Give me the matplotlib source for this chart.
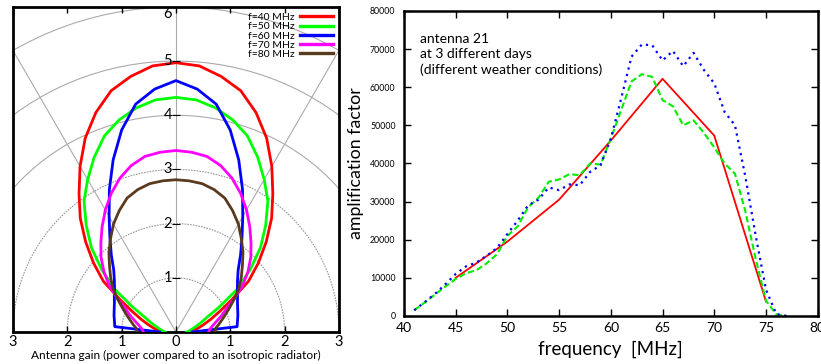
import numpy as np
import matplotlib
matplotlib.use("Agg")
import matplotlib.pyplot as plt
from matplotlib.patches import Circle

plt.rcParams["font.family"] = ["Lato", "DejaVu Sans"]

# --- left: antenna gain patterns (radius vs elevation, symmetric about zenith)
elev = [0, 5, 10, 15, 20, 25, 30, 35, 40, 45, 50, 55, 60, 65, 70, 75, 80, 85, 90]
gain_40 = [0.25, 0.33, 0.42, 0.53, 0.68, 0.88, 1.18, 1.63, 1.98, 2.35, 2.74, 3.11,
           3.53, 3.95, 4.31, 4.61, 4.79, 4.93, 4.97]
gain_50 = [0.20, 0.25, 0.30, 0.37, 0.48, 0.62, 0.92, 1.38, 1.78, 2.20, 2.57, 2.95,
           3.25, 3.56, 3.85, 4.05, 4.20, 4.30, 4.33]
gain_60 = [0.30, 1.13, 1.15, 1.18, 1.21, 1.25, 1.31, 1.38, 1.48, 1.62, 1.85, 2.12,
           2.46, 2.90, 3.38, 3.86, 4.27, 4.50, 4.64]
gain_70 = [0.60, 0.63, 0.69, 0.78, 0.90, 1.03, 1.25, 1.50, 1.73, 1.95, 2.15, 2.37,
           2.60, 2.82, 3.02, 3.18, 3.29, 3.33, 3.35]
gain_80 = [0.72, 0.73, 0.80, 0.88, 0.98, 1.10, 1.25, 1.42, 1.57, 1.73, 1.92, 2.10,
           2.30, 2.47, 2.63, 2.72, 2.78, 2.80, 2.81]
pattern_labels = ["f=40 MHz", "f=50 MHz", "f=60 MHz", "f=70 MHz", "f=80 MHz"]
pattern_colors = ["#ff0000", "#00ff00", "#0000ff", "#ff00ff", "#5a3a1e"]

# --- right: amplification factor vs frequency
freq_model = [45, 50, 55, 60, 65, 70, 75]
amp_model = [10000, 19500, 30500, 46000, 62200, 47300, 3800]

freq_meas = list(range(41, 78))
amp_day2 = [1500, 3500, 5600, 7700, 9700, 11200, 12000, 13800, 16200, 21000,
            23500, 28500, 31000, 35200, 35800, 37200, 36900, 40000, 39700, 46500,
            54000, 61500, 63400, 62700, 56600, 55000, 50000, 51300, 48000, 44200,
            40000, 37300, 27500, 15000, 4000, 400, 0]
amp_day3 = [1500, 3600, 5800, 8300, 11000, 13000, 14000, 15800, 17800, 21500,
            25000, 29000, 30500, 33700, 33000, 34500, 34300, 37800, 39500, 46500,
            57000, 68000, 71200, 71000, 67000, 69500, 65500, 69000, 64500, 61000,
            53500, 50000, 36600, 21100, 6900, 500, 0]

fig = plt.figure(figsize=(8.21, 3.64), dpi=100)

# ---------------- left panel ----------------
ax = fig.add_axes([0.0158, 0.088, 0.397, 0.893])
ax.set_xlim(-3, 3)
ax.set_ylim(0, 6)

for r in [1, 2, 3]:
    ax.add_patch(Circle((0, 0), r, fill=False, ec="#999999", lw=0.8,
                        ls=(0, (1.5, 1)), zorder=1))
for r in [4, 5, 6]:
    ax.add_patch(Circle((0, 0), r, fill=False, ec="#aaaaaa", lw=0.8, zorder=1))
for a in [60, 90, 120]:
    t = np.radians(a)
    ax.plot([0, 6 * np.cos(t)], [0, 6 * np.sin(t)], color="#aaaaaa", lw=0.8, zorder=1)

e = np.radians(elev)
theta = np.concatenate([e, np.pi - e[::-1][1:]])
for g, lab, col in zip([gain_40, gain_50, gain_60, gain_70, gain_80],
                       pattern_labels, pattern_colors):
    rr = np.concatenate([g, g[::-1][1:]])
    ax.plot(rr * np.cos(theta), rr * np.sin(theta), color=col, lw=2.0,
            label=lab, zorder=3)

rticks = [1, 2, 3, 4, 5, 6]
for r in rticks:
    ax.text(-0.07, r, str(r), ha="right", va="top" if r == 6 else "center",
            fontsize=10.5, zorder=4)
ax.hlines(rticks[:-1], -0.07, 0.07, color="k", lw=0.8, zorder=4)

xt = [-3, -2, -1, 0, 1, 2, 3]
ax.set_xticks(xt)
ax.set_xticklabels([str(abs(v)) for v in xt], fontsize=10.5)
ax.set_yticks([])
ax.tick_params(axis="x", direction="in", top=True, length=4, width=1, pad=2)
for s in ax.spines.values():
    s.set_linewidth(2)
ax.set_xlabel("Antenna gain (power compared to an isotropic radiator)",
              fontsize=8.6, labelpad=1)

leg = ax.legend(loc="upper right", markerfirst=False, frameon=False, fontsize=7.5,
                handlelength=3.2, handletextpad=0.5, labelspacing=0.0,
                borderaxespad=0.3, borderpad=0.25)
for t in leg.get_texts():
    t.set_ha("right")
for h in leg.get_lines():
    h.set_linewidth(2.4)

# ---------------- right panel ----------------
bx = fig.add_axes([0.492, 0.132, 0.504, 0.838])
bx.plot(freq_model, amp_model, color="#ff0000", lw=1.3)
bx.plot(freq_meas, amp_day2, color="#00ee00", lw=1.5, ls=(0, (3, 1.5)))
bx.plot(freq_meas, amp_day3, color="#0000ff", lw=1.6, ls=(0, (1, 2)))

bx.set_xlim(40, 80)
bx.set_ylim(0, 80000)
bx.set_xticks(range(40, 81, 5))
bx.set_yticks(range(0, 80001, 10000))
bx.tick_params(axis="x", direction="in", top=True, length=5, width=1,
               labelsize=10, pad=4)
bx.tick_params(axis="y", direction="in", right=True, length=5, width=1,
               labelsize=6.3, pad=6)
for s in bx.spines.values():
    s.set_linewidth(1.8)
bx.set_xlabel("frequency  [MHz]", fontsize=13.5, labelpad=5)
bx.set_ylabel("amplification factor", fontsize=12.8, labelpad=4)
bx.text(41.6, 74200, "antenna 21\nat 3 different days\n(different weather conditions)",
        ha="left", va="top", fontsize=10, linespacing=1.3)

fig.savefig("out.png", dpi=100)
